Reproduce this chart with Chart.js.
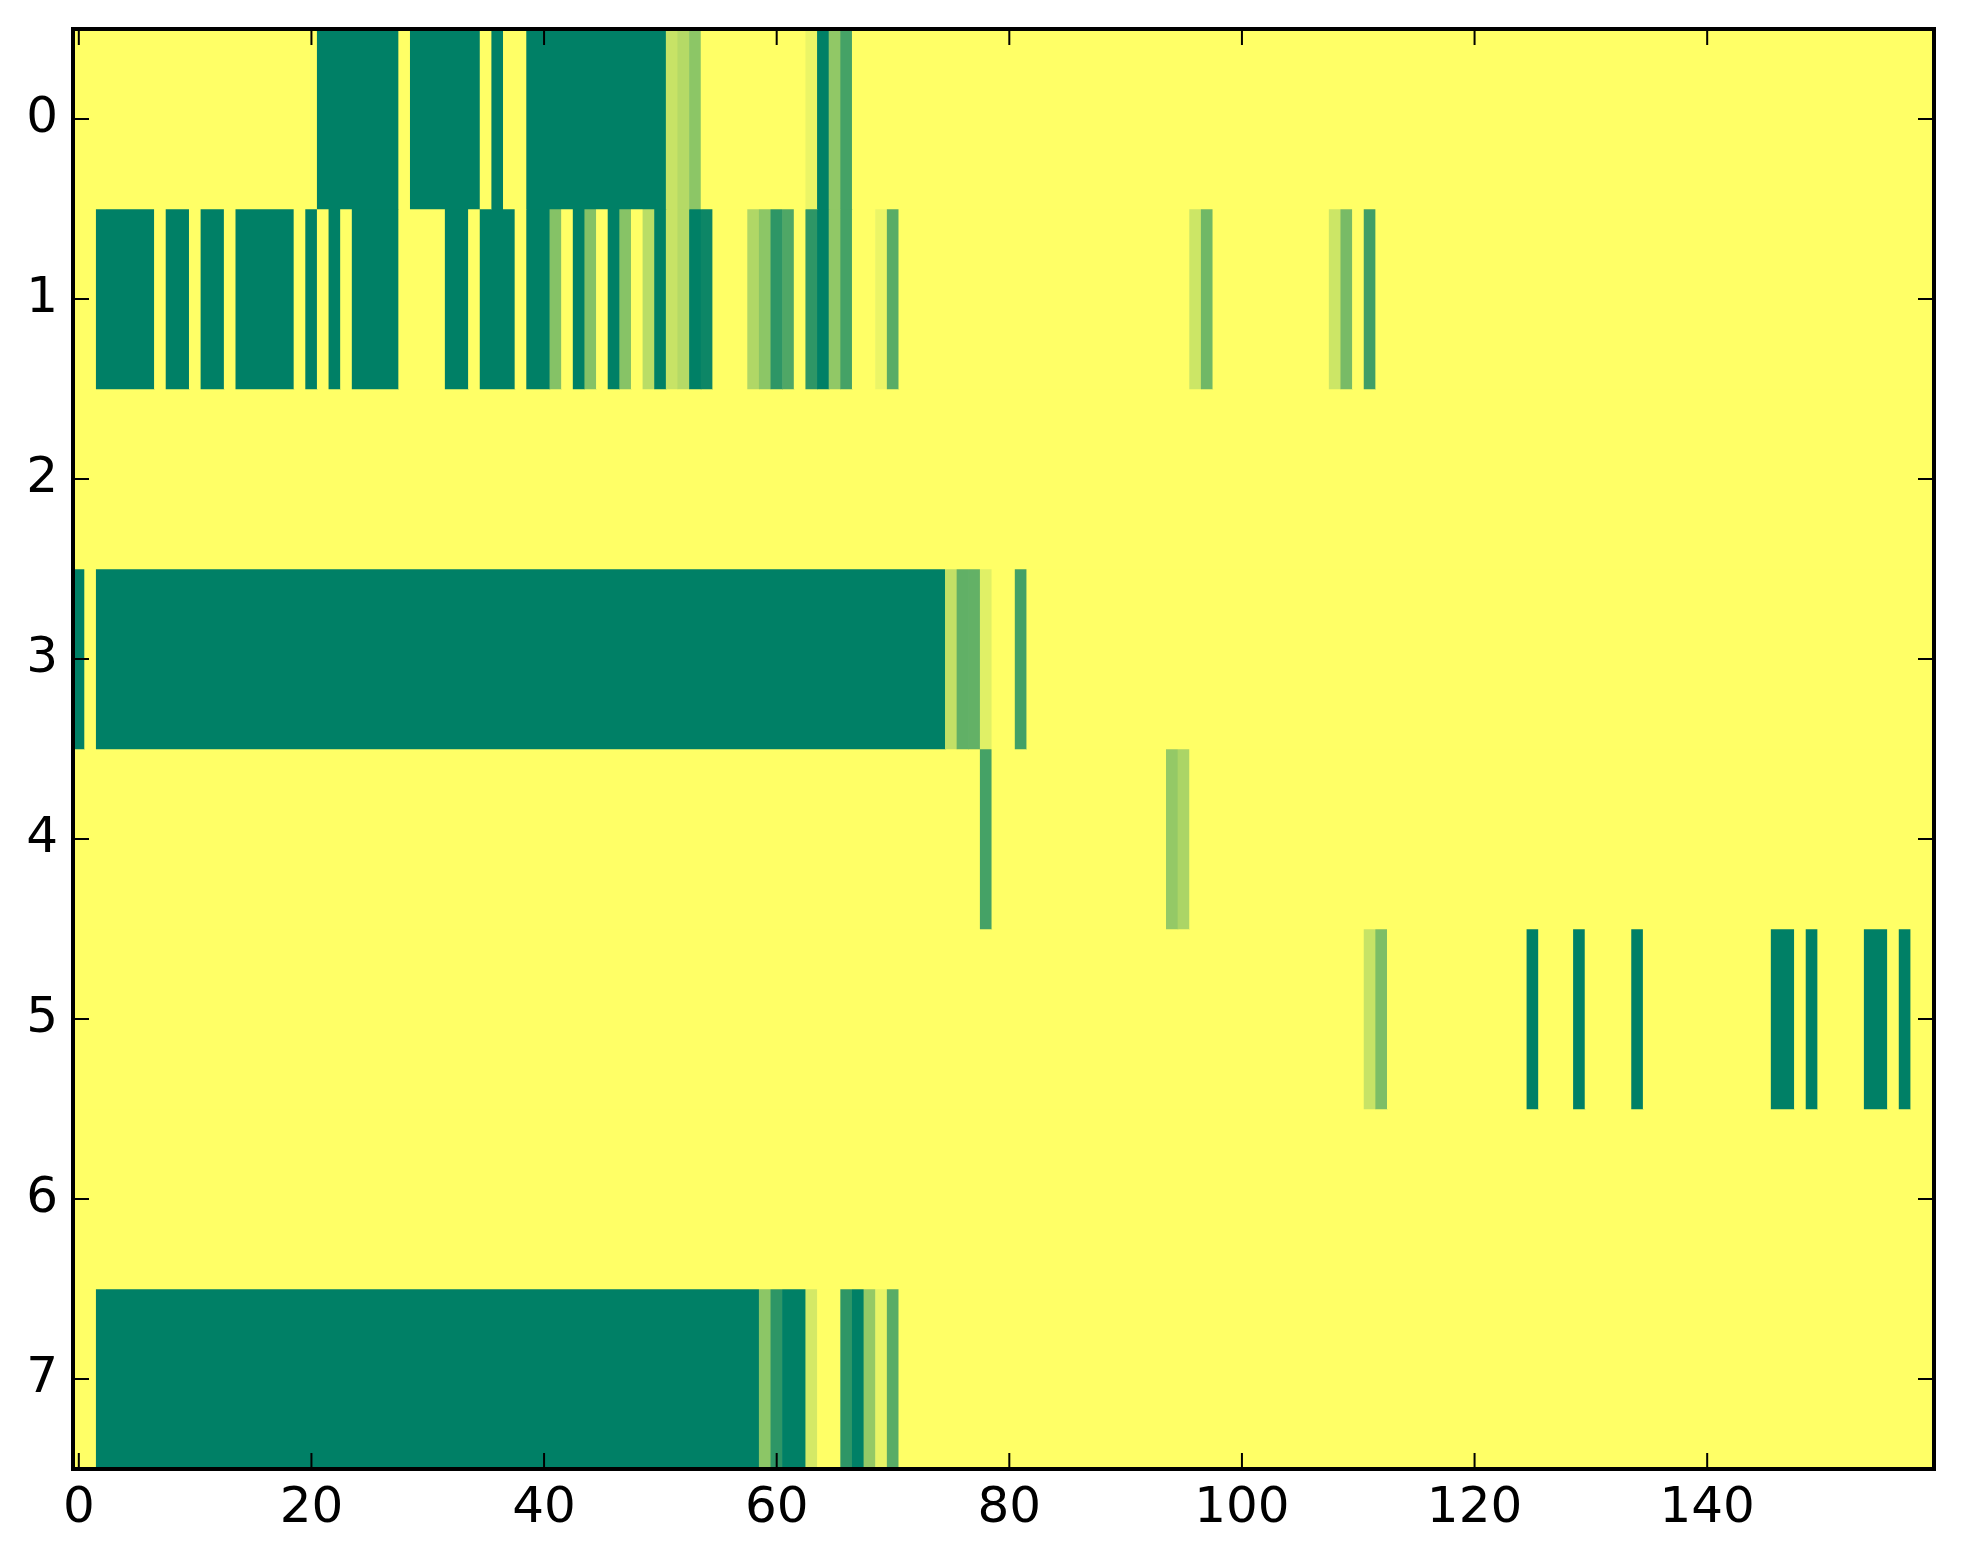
<!DOCTYPE html>
<html>
<head>
<meta charset="utf-8">
<script src="https://cdn.jsdelivr.net/npm/chart.js@4.4.1/dist/chart.umd.min.js"></script>
<style>
  html, body { margin: 0; padding: 0; background: #fff; }
  canvas { display: block; }
</style>
</head>
<body>
<canvas id="heat" width="1963" height="1564" style="width:1963px;height:1564px"></canvas>
<script>
const rowLabels = ['0', '1', '2', '3', '4', '5', '6', '7']
const nCols = 160
const xTicks = [0, 20, 40, 60, 80, 100, 120, 140]

// non zero cells of each row: [first col, last col, value]
const row0 = [[21,27,1],[29,34,1],[36,36,1],[39,50,1],[51,51,0.22],[52,52,0.29],[53,53,0.45],
  [63,63,0.08],[64,64,1],[65,65,0.43],[66,66,0.73]]
const row1 = [[2,6,1],[8,9,1],[11,12,1],[14,18,1],[20,20,1],[22,22,1],[24,27,1],[32,33,1],[35,37,1],
  [39,40,1],[41,41,0.48],[43,43,1],[44,44,0.48],[46,46,1],[47,47,0.47],[49,49,0.27],[50,50,1],
  [51,51,0.22],[52,52,0.29],[53,53,1],[54,54,0.95],[58,58,0.31],[59,59,0.45],[60,60,0.82],
  [61,61,0.69],[63,63,0.82],[64,64,1],[65,65,0.43],[66,66,0.73],[69,69,0.08],[70,70,0.65],
  [96,96,0.2],[97,97,0.56],[108,108,0.2],[109,109,0.53],[111,111,0.75]]
const row2 = []
const row3 = [[0,0,1],[2,74,1],[75,75,0.24],[76,76,0.62],[77,77,0.61],[78,78,0.12],[81,81,0.74]]
const row4 = [[78,78,0.73],[94,94,0.42],[95,95,0.33]]
const row5 = [[111,111,0.22],[112,112,0.51],[125,125,1],[129,129,1],[134,134,1],[146,147,1],
  [149,149,1],[154,155,1],[157,157,1]]
const row6 = []
const row7 = [[2,58,1],[59,59,0.45],[60,60,0.82],[61,62,1],[63,63,0.17],[66,66,0.82],[67,67,1],
  [68,68,0.42],[69,69,0.09],[70,70,0.65]]

const rows = [row0, row1, row2, row3, row4, row5, row6, row7]

// summer_r colormap
function summerR(v) {
  const t = 1 - v
  const r = Math.round(t * 255)
  const g = Math.round((0.5 + t / 2) * 255)
  const b = Math.round(0.4 * 255)
  return 'rgb(' + r + ',' + g + ',' + b + ')'
}

const cells = rows.map((runs) => {
  const line = new Array(nCols).fill(0)
  runs.forEach(([a, b, v]) => {
    for (let c = a; c <= b; c++) line[c] = v
  })
  return line
})

const datasets = cells.map((line, r) => {
  const data = []
  const colors = []
  let start = 0
  for (let c = 1; c <= nCols; c++) {
    if (c === nCols || line[c] !== line[start]) {
      data.push({ x: [start - 0.5, c - 0.5], y: rowLabels[r] })
      colors.push(summerR(line[start]))
      start = c
    }
  }
  return {
    label: 'row ' + rowLabels[r],
    data: data,
    backgroundColor: colors,
    borderWidth: 0,
    barPercentage: 1,
    categoryPercentage: 1,
    grouped: false,
  }
})

const innerTicks = {
  id: 'innerTicks',
  afterDatasetsDraw(chart) {
    const { ctx, chartArea: a, scales: { x, y } } = chart
    ctx.save()
    ctx.strokeStyle = '#000'
    ctx.lineWidth = 2
    ctx.beginPath()
    xTicks.forEach((v) => {
      const px = x.getPixelForValue(v)
      ctx.moveTo(px, a.bottom); ctx.lineTo(px, a.bottom - 16)
      ctx.moveTo(px, a.top); ctx.lineTo(px, a.top + 16)
    })
    rowLabels.forEach((l, i) => {
      const py = y.getPixelForValue(i)
      ctx.moveTo(a.left, py); ctx.lineTo(a.left + 16, py)
      ctx.moveTo(a.right, py); ctx.lineTo(a.right - 16, py)
    })
    ctx.stroke()
    ctx.lineWidth = 4
    ctx.strokeRect(a.left, a.top, a.right - a.left, a.bottom - a.top)
    ctx.restore()
  },
}

const ctx = document.getElementById('heat').getContext('2d')
new Chart(ctx, {
  type: 'bar',
  data: { labels: rowLabels, datasets: datasets },
  plugins: [innerTicks],
  options: {
    indexAxis: 'y',
    responsive: false,
    animation: false,
    devicePixelRatio: 1,
    layout: { padding: { left: 0, top: 29, right: 29, bottom: 0 } },
    plugins: {
      legend: { display: false },
      tooltip: { enabled: false },
    },
    scales: {
      x: {
        type: 'linear',
        min: -0.5,
        max: 159.5,
        grid: { display: false },
        border: { display: false },
        afterBuildTicks: (scale) => {
          scale.ticks = xTicks.map((v) => ({ value: v }))
        },
        afterFit: (scale) => {
          scale.height = 95
          scale.paddingLeft = 0
          scale.paddingRight = 0
        },
        ticks: {
          color: '#000',
          padding: 2,
          font: { family: 'DejaVu Sans', size: 50 },
        },
      },
      y: {
        type: 'category',
        grid: { display: false },
        border: { display: false },
        afterFit: (scale) => {
          scale.width = 73
          scale.paddingTop = 0
          scale.paddingBottom = 0
        },
        ticks: {
          color: '#000',
          padding: 7,
          font: { family: 'DejaVu Sans', size: 50 },
        },
      },
    },
  },
})
</script>
</body>
</html>
